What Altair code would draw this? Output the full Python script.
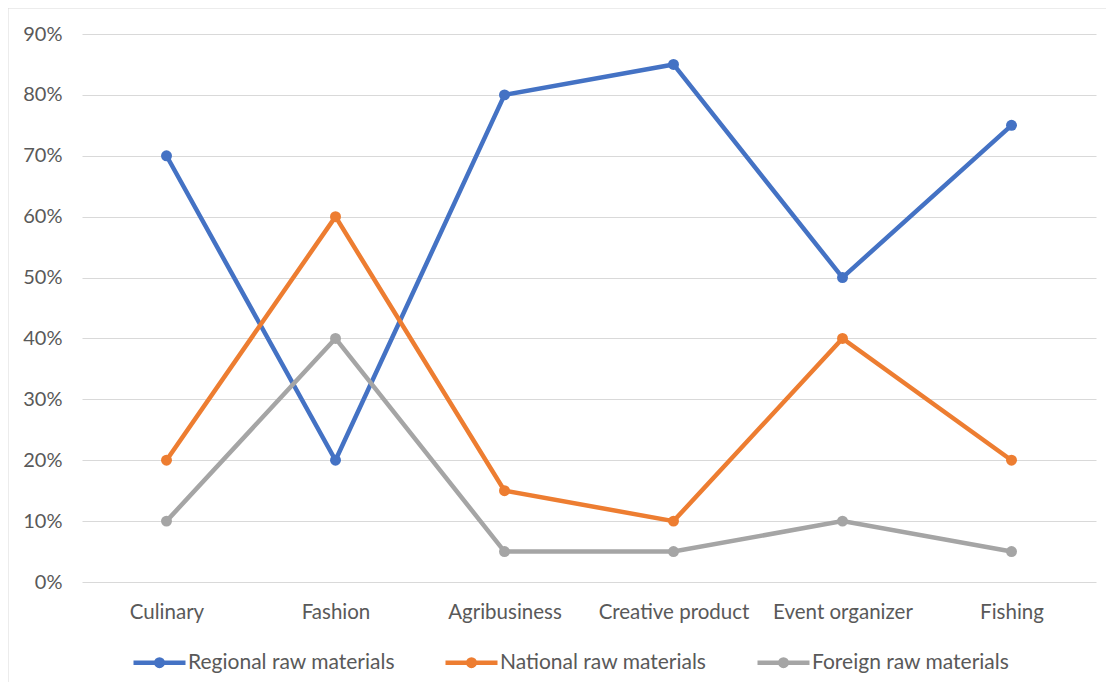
import altair as alt
import pandas as pd

categories = ["Culinary", "Fashion", "Agribusiness", "Creative product", "Event organizer", "Fishing"]
series = ["Regional raw materials", "National raw materials", "Foreign raw materials"]
regional = [0.70, 0.20, 0.80, 0.85, 0.50, 0.75]
national = [0.20, 0.60, 0.15, 0.10, 0.40, 0.20]
foreign = [0.10, 0.40, 0.05, 0.05, 0.10, 0.05]
colors = ["#4472C4", "#ED7D31", "#A5A5A5"]
y_ticks = [0, 0.1, 0.2, 0.3, 0.4, 0.5, 0.6, 0.7, 0.8, 0.9]

rows = []
for name, vals in zip(series, [regional, national, foreign]):
    for c, v in zip(categories, vals):
        rows.append({"category": c, "series": name, "value": v})
df = pd.DataFrame(rows)

FONT = "Lato"
TXT = "#595959"

sym_path = ("M-1,0L1,0"
            "M-0.125,0A0.125,0.125 0 1,1 0.125,0A0.125,0.125 0 1,1 -0.125,0"
            "M-0.05,0A0.05,0.05 0 1,1 0.05,0A0.05,0.05 0 1,1 -0.05,0")

x_enc = alt.X("category:N", sort=categories, title=None,
              scale=alt.Scale(type="point", padding=0.5),
              axis=alt.Axis(domain=False, ticks=False, grid=False, labelAngle=0,
                            labelPadding=20, labelFont=FONT, labelFontSize=20.5,
                            labelColor=TXT))
y_enc = alt.Y("value:Q", title=None,
              scale=alt.Scale(domain=[0, 0.9], nice=False),
              axis=alt.Axis(values=y_ticks, format=".0%", domain=False, ticks=False,
                            grid=True, gridColor="#D9D9D9", gridWidth=1,
                            labelPadding=20, labelFont=FONT, labelFontSize=20,
                            labelColor=TXT))
color_enc = alt.Color("series:N", sort=series,
                      scale=alt.Scale(domain=series, range=colors),
                      legend=alt.Legend(title=None, orient="none", direction="horizontal",
                                        legendX=49, legendY=600, padding=0,
                                        symbolType=sym_path, symbolSize=2704,
                                        symbolStrokeWidth=4.5, labelOffset=0,
                                        columnPadding=41, labelFont=FONT,
                                        labelFontSize=21, labelColor=TXT,
                                        labelLimit=400, labelBaseline="middle"))

lines = alt.Chart(df).mark_line(strokeWidth=4.5).encode(
    x=x_enc, y=y_enc, color=color_enc, order=alt.Order("series:N"))
points = alt.Chart(df).mark_point(filled=True, size=120, opacity=1).encode(
    x=x_enc, y=y_enc, color=alt.Color("series:N", sort=series,
                                      scale=alt.Scale(domain=series, range=colors),
                                      legend=None))

frame = alt.Chart(alt.Data(values=[{"k": 1}])).mark_rule(
    stroke="#D9D9D9", strokeWidth=1).encode(
    x=alt.value(-74), y=alt.value(-26), y2=alt.value(900))
frame_top = alt.Chart(alt.Data(values=[{"k": 1}])).mark_rule(
    stroke="#D9D9D9", strokeWidth=1).encode(
    x=alt.value(-74), x2=alt.value(1200), y=alt.value(-26))

chart = alt.layer(frame, frame_top, lines, points).properties(
    width=1014, height=548, background="white",
    padding={"left": 74, "top": 26, "right": 10, "bottom": 100},
    autosize=alt.AutoSizeParams(type="none"),
).configure_view(stroke=None, strokeWidth=0)

chart.save("out.html", embed_options={"renderer": "svg", "actions": False})
